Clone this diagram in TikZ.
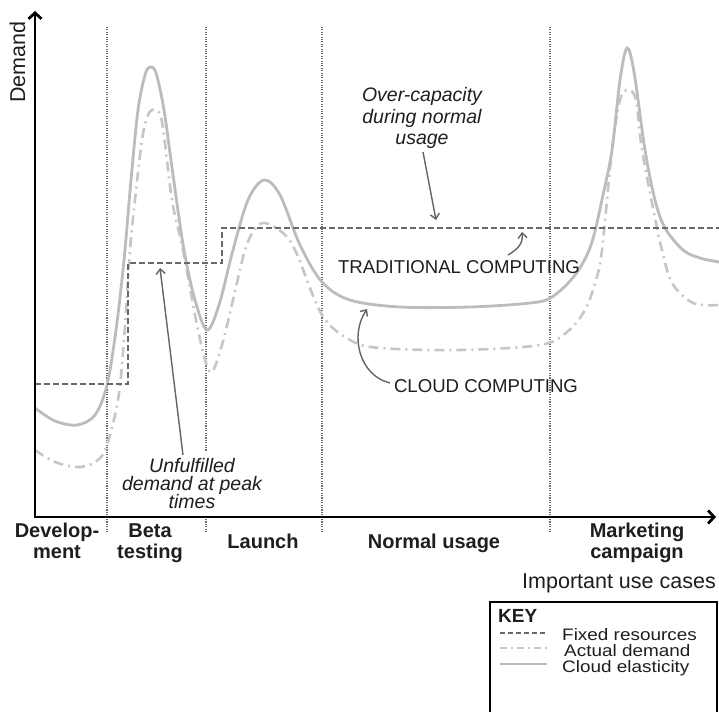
\documentclass[tikz,border=0pt]{standalone}
\usepackage{fontspec}
\setmainfont{Liberation Sans}
\newfontfamily\keyfont{Liberation Sans}[FakeStretch=1.14]
\usetikzlibrary{arrows.meta}
\definecolor{cloudgray}{RGB}{188,188,190}
\definecolor{demandgray}{RGB}{198,198,198}
\definecolor{fixedgray}{RGB}{105,105,105}
\definecolor{dotgray}{RGB}{105,105,105}
\definecolor{notegray}{RGB}{100,100,100}
\definecolor{txt}{RGB}{30,30,30}
\tikzset{
  axisline/.style={line width=2.8pt, black, -{Straight Barb[length=6pt,width=13pt]}},
  sepline/.style={dotgray, line width=1.2pt, dash pattern=on 1.1pt off 1.3pt},
  fixedline/.style={fixedgray, line width=2.1pt, dash pattern=on 6pt off 3pt},
  demandline/.style={demandgray, line width=2.6pt, dash pattern=on 10pt off 5pt on 2pt off 5pt},
  cloudline/.style={cloudgray, line width=2.8pt},
  note/.style={notegray, line width=1.4pt, -{Straight Barb[length=5pt,width=9pt]}},
  itxt/.style={inner sep=0pt, anchor=base, txt, font=\itshape\fontsize{19.5}{20}\selectfont},
  ctxt/.style={inner sep=0pt, anchor=base, txt, font=\fontsize{18.6}{20}\selectfont},
  btxt/.style={inner sep=0pt, anchor=base, txt, font=\bfseries\fontsize{20}{21}\selectfont},
  ktxt/.style={inner sep=0pt, anchor=base west, txt, font=\keyfont\fontsize{16.6}{17}\selectfont},
}
\begin{document}
\begin{tikzpicture}[x=1pt,y=-1pt]
\useasboundingbox (0,0) rectangle (719,711);
% separators
\foreach \xx/\nm in {107/s1,206/s2,322/s3,550/s4}{
  \coordinate (\nm t) at (\xx,27);
  \coordinate (\nm b) at (\xx,532);
  \draw[sepline] (\nm t) -- (\nm b);
}
% actual demand
\draw[demandline] plot[smooth, tension=0.55] coordinates {
 (35,450) (55,462) (80,467) (98,460) (107,445) (118,400) (124,340) (130,250)
 (135,200) (142,140) (148,115) (155,110) (162,122) (172,200) (183,250) (195,315)
 (205,360) (212,372) (222,345) (233,300) (245,250) (255,229) (265,223) (283,233)
 (296,252) (322,315) (350,340) (380,348) (460,350) (540,345) (567,332) (585,310)
 (596,280) (602,250) (612,150) (620,100) (628,90) (636,100) (642,150) (657,228)
 (662,250) (672,283) (693,303) (719,305)};
% cloud elasticity
\draw[cloudline] plot[smooth, tension=0.55] coordinates {
 (35,408) (55,421) (77,425) (95,415) (107,385) (116,330) (124,260) (131,180)
 (138,110) (145,75) (150,67) (156,73) (164,110) (173,175) (184,250) (195,300)
 (207,330) (219,305) (233,250) (248,200) (264,180) (280,195) (300,245) (322,282)
 (350,300) (400,307) (470,307) (530,303) (552,297) (575,275) (591,245) (603,195)
 (612,150) (620,80) (627,48) (634,72) (645,150) (655,200) (665,228) (683,250)
 (700,258) (719,262)};
% fixed resources
\coordinate (f0) at (35,384);
\coordinate (f1) at (128,384);
\coordinate (f2) at (128,263);
\coordinate (f3) at (222,263);
\coordinate (f4) at (222,228);
\coordinate (f5) at (722,228);
\draw[fixedline] (f0) -- (f1) -- (f2) -- (f3) -- (f4) -- (f5);
% labels
\node[inner sep=0pt, anchor=base, rotate=90, txt, font=\fontsize{21.5}{22}\selectfont] (demand) at (25,62) {Demand};
\node[itxt] (oc1) at (422,102) {Over-capacity};
\node[itxt] (oc2) at (422,123.5) {during normal};
\node[itxt] (oc3) at (422,145) {usage};
\node[ctxt] (trad) at (459,273) {TRADITIONAL COMPUTING};
\node[ctxt] (cloud) at (486,392) {CLOUD COMPUTING};
\node[fill=white, inner sep=1pt, minimum width=150pt, minimum height=66pt] (unmask) at (192,484) {};
\node[itxt] (uf1) at (192,472) {Unfulfilled};
\node[itxt] (uf2) at (192,490) {demand at peak};
\node[itxt] (uf3) at (192,508) {times};
% annotation arrows
\coordinate (oca) at (423,152);
\coordinate (ocb) at (436,220);
\draw[note] (oca) -- (ocb);
\coordinate (tra) at (508,255);
\coordinate (trb) at (522,232);
\draw[note] (tra) .. controls (520,248) and (523,242) .. (trb);
\coordinate (cla) at (390,383);
\coordinate (clb) at (367,309);
\draw[note] (cla) .. controls (360,376) and (349,336) .. (clb);
\coordinate (ufa) at (183,455);
\coordinate (ufb) at (160,268);
\draw[note] (ufa) -- (ufb);
% axes
\coordinate (o) at (35,518.4);
\coordinate (ytop) at (35,11);
\coordinate (ox) at (33.6,517);
\coordinate (xend) at (716,517);
\draw[axisline] (o) -- (ytop);
\draw[axisline] (ox) -- (xend);
% phase labels
\node[btxt] (dev1) at (57,537) {Develop-};
\node[btxt] (dev2) at (57,558) {ment};
\node[btxt] (beta1) at (150,537) {Beta};
\node[btxt] (beta2) at (150,558) {testing};
\node[btxt] (launch) at (263,548) {Launch};
\node[btxt] (normal) at (434,548) {Normal usage};
\node[btxt] (mk1) at (637,537) {Marketing};
\node[btxt] (mk2) at (637,558) {campaign};
\node[inner sep=0pt, anchor=base east, txt, font=\fontsize{21.5}{22}\selectfont] (iuc) at (716,588) {Important use cases};
% key (box runs off the bottom of the picture)
\coordinate (kbl) at (490,712);
\coordinate (ktl) at (490,602);
\coordinate (ktr) at (717,602);
\coordinate (kbr) at (717,712);
\draw[black, line width=2pt, line join=miter] (kbl) -- (ktl) -- (ktr) -- (kbr);
\node[inner sep=0pt, anchor=base west, txt, font=\bfseries\fontsize{19}{20}\selectfont] (key) at (498,622) {KEY};
\coordinate (ka1) at (500,633);
\coordinate (kb1) at (547,633);
\draw[fixedgray, line width=1.6pt, dash pattern=on 5pt off 3pt] (ka1) -- (kb1);
\node[ktxt] (kf) at (562,640) {Fixed resources};
\coordinate (ka2) at (500,648);
\coordinate (kb2) at (547,648);
\draw[demandgray, line width=1.8pt, dash pattern=on 7pt off 4pt on 2pt off 4pt] (ka2) -- (kb2);
\node[ktxt] (ka) at (564,656) {Actual demand};
\coordinate (ka3) at (500,664);
\coordinate (kb3) at (547,664);
\draw[cloudgray, line width=2.2pt] (ka3) -- (kb3);
\node[ktxt] (kc) at (562,672) {Cloud elasticity};
\end{tikzpicture}
\end{document}
